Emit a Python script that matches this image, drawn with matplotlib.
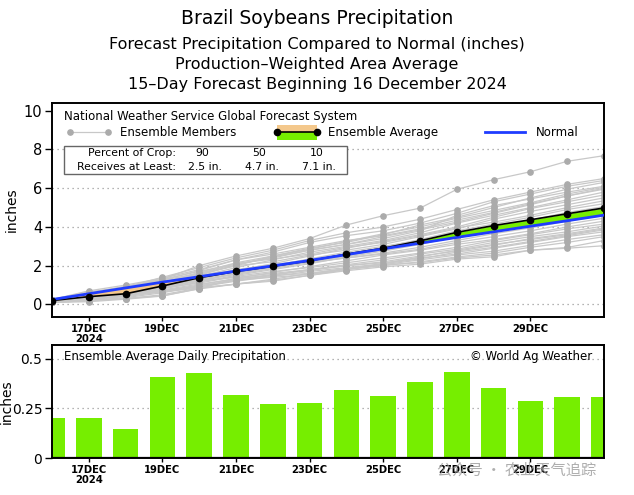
import numpy as np
import matplotlib
matplotlib.use("Agg")
import matplotlib.pyplot as plt
from matplotlib.patches import Rectangle

# days after 16 Dec 2024 (0 = 16DEC ... 15 = 31DEC)
days = list(range(16))
tick_days = [1, 3, 5, 7, 9, 11, 13]
tick_labels = ["17DEC\n2024", "19DEC", "21DEC", "23DEC", "25DEC", "27DEC", "29DEC"]

# daily ensemble average precipitation (inches)
daily_avg = [0.20, 0.20, 0.145, 0.41, 0.43, 0.32, 0.27, 0.277,
             0.342, 0.314, 0.381, 0.436, 0.354, 0.289, 0.309, 0.309]

# cumulative ensemble average and normal (inches)
ens_avg = [0.20, 0.40, 0.55, 0.95, 1.38, 1.70, 1.97, 2.25,
           2.60, 2.90, 3.28, 3.72, 4.07, 4.37, 4.68, 4.98]
normal = [0.25, 0.55, 0.85, 1.15, 1.43, 1.72, 1.99, 2.27,
          2.57, 2.87, 3.16, 3.46, 3.75, 4.04, 4.32, 4.61]

# cumulative ensemble members (inches)
members = [
    [0.25, 0.60, 0.90, 1.30, 2.00, 2.50, 2.90, 3.40, 4.10, 4.58, 4.97, 5.94, 6.44, 6.85, 7.39, 7.68],
    [0.20, 0.50, 0.90, 1.40, 1.90, 2.40, 2.80, 3.30, 3.70, 4.00, 4.40, 4.90, 5.40, 5.80, 6.20, 6.50],
    [0.25, 0.70, 1.00, 1.35, 1.80, 2.30, 2.70, 3.20, 3.55, 3.80, 4.20, 4.70, 5.30, 5.70, 6.10, 6.40],
    [0.20, 0.45, 0.75, 1.10, 1.60, 2.00, 2.50, 2.90, 3.20, 3.60, 4.10, 4.50, 5.00, 5.50, 5.95, 6.30],
    [0.15, 0.40, 0.70, 1.00, 1.50, 2.05, 2.45, 2.80, 3.10, 3.40, 3.80, 4.60, 5.10, 5.45, 5.80, 6.10],
    [0.25, 0.55, 0.80, 1.25, 1.75, 2.30, 2.60, 2.95, 3.30, 3.55, 3.90, 4.35, 4.75, 5.20, 5.60, 5.95],
    [0.20, 0.35, 0.60, 1.00, 1.45, 1.90, 2.30, 2.70, 3.00, 3.30, 3.70, 4.20, 4.60, 5.00, 5.40, 5.80],
    [0.10, 0.30, 0.55, 0.90, 1.30, 1.75, 2.10, 2.50, 2.90, 3.25, 3.60, 4.00, 4.50, 4.95, 5.30, 5.65],
    [0.20, 0.45, 0.65, 1.05, 1.55, 2.00, 2.20, 2.55, 2.80, 3.10, 3.50, 3.90, 4.40, 4.80, 5.15, 5.50],
    [0.25, 0.65, 0.90, 1.30, 1.70, 2.10, 2.35, 2.60, 2.95, 3.20, 3.55, 3.95, 4.25, 4.60, 5.00, 5.35],
    [0.15, 0.30, 0.50, 0.85, 1.20, 1.60, 1.95, 2.30, 2.60, 2.95, 3.35, 3.80, 4.15, 4.50, 4.90, 5.20],
    [0.20, 0.40, 0.60, 0.95, 1.35, 1.70, 2.00, 2.35, 2.70, 3.00, 3.30, 3.65, 4.00, 4.35, 4.75, 5.05],
    [0.20, 0.50, 0.70, 1.10, 1.40, 1.80, 2.05, 2.30, 2.55, 2.80, 3.20, 3.60, 3.90, 4.25, 4.60, 4.95],
    [0.10, 0.25, 0.45, 0.80, 1.15, 1.50, 1.80, 2.10, 2.45, 2.75, 3.10, 3.50, 3.85, 4.15, 4.50, 4.85],
    [0.15, 0.35, 0.55, 0.90, 1.25, 1.55, 1.85, 2.20, 2.50, 2.85, 3.15, 3.45, 3.75, 4.05, 4.40, 4.75],
    [0.20, 0.40, 0.70, 1.00, 1.30, 1.60, 1.90, 2.15, 2.40, 2.65, 2.95, 3.30, 3.65, 3.95, 4.30, 4.60],
    [0.25, 0.60, 0.85, 1.15, 1.50, 1.75, 2.00, 2.20, 2.40, 2.60, 2.85, 3.20, 3.50, 3.80, 4.15, 4.45],
    [0.15, 0.30, 0.50, 0.70, 1.00, 1.35, 1.65, 1.95, 2.25, 2.55, 2.80, 3.10, 3.35, 3.65, 4.00, 4.30],
    [0.20, 0.45, 0.60, 0.85, 1.10, 1.45, 1.70, 1.90, 2.15, 2.40, 2.65, 2.95, 3.30, 3.60, 3.90, 4.15],
    [0.10, 0.20, 0.35, 0.60, 0.95, 1.25, 1.50, 1.80, 2.05, 2.30, 2.60, 2.85, 3.20, 3.50, 3.75, 4.05],
    [0.20, 0.35, 0.55, 0.75, 1.05, 1.30, 1.55, 1.75, 2.00, 2.20, 2.50, 2.75, 3.05, 3.40, 3.65, 3.95],
    [0.15, 0.25, 0.40, 0.65, 0.90, 1.20, 1.45, 1.70, 1.90, 2.10, 2.35, 2.70, 2.95, 3.25, 3.55, 3.85],
    [0.25, 0.50, 0.70, 0.95, 1.20, 1.40, 1.60, 1.80, 2.00, 2.15, 2.40, 2.60, 2.90, 3.20, 3.50, 3.75],
    [0.10, 0.20, 0.30, 0.50, 0.85, 1.05, 1.30, 1.60, 1.85, 2.05, 2.30, 2.55, 2.75, 3.05, 3.35, 3.60],
    [0.20, 0.30, 0.45, 0.70, 0.95, 1.25, 1.40, 1.55, 1.80, 2.00, 2.20, 2.45, 2.65, 2.95, 3.20, 3.50],
    [0.15, 0.20, 0.30, 0.45, 0.80, 1.05, 1.20, 1.50, 1.74, 1.94, 2.08, 2.34, 2.46, 2.80, 2.94, 3.30],
    [0.10, 0.14, 0.27, 0.43, 0.82, 1.34, 1.50, 1.60, 1.85, 2.05, 2.15, 2.40, 2.55, 2.80, 2.90, 3.03],
    [0.20, 0.40, 0.50, 0.65, 0.85, 1.05, 1.25, 1.50, 1.80, 2.10, 2.45, 2.80, 3.10, 3.35, 3.60, 3.90],
    [0.25, 0.55, 0.95, 1.25, 1.60, 2.10, 2.40, 2.80, 3.10, 3.50, 3.85, 4.25, 4.70, 5.15, 5.60, 6.00],
    [0.20, 0.50, 0.75, 1.15, 1.65, 2.15, 2.50, 2.85, 3.25, 3.65, 4.00, 4.45, 4.85, 5.25, 5.70, 6.05],
]

crop_pct = ["90", "50", "10"]
crop_amt = ["2.5 in.", "4.7 in.", "7.1 in."]

title_lines = [
    "Brazil Soybeans Precipitation",
    "Forecast Precipitation Compared to Normal (inches)",
    "Production\u2013Weighted Area Average",
    "15\u2013Day Forecast Beginning 16 December 2024",
]

GREEN = "#76ee00"
TAN = "#f4c88c"
GREY = "#c8c8c8"
GREY_DOT = "#ababab"
BLUE = "#1f3cff"

plt.rcParams["font.family"] = "DejaVu Sans"

fig = plt.figure(figsize=(6.34, 4.95), dpi=100)
ax = fig.add_axes([52 / 634, 1 - 317 / 495, 552 / 634, 214 / 495])
axb = fig.add_axes([52 / 634, 1 - 458 / 495, 552 / 634, 113 / 495])

# titles
fig.text(0.5, 1 - 19 / 495, title_lines[0], ha="center", va="center", fontsize=13.5)
for i, y in enumerate([45, 65, 85]):
    fig.text(0.5, 1 - y / 495, title_lines[i + 1], ha="center", va="center", fontsize=11.5)


def style_axes(a, ytick_size, label_x):
    for s in a.spines.values():
        s.set_linewidth(1.4)
        s.set_color("black")
    a.set_xlim(0, 15)
    a.set_xticks(tick_days)
    a.set_xticklabels(tick_labels, fontsize=8, fontweight="bold",
                      fontstretch="condensed", linespacing=1.0)
    a.tick_params(axis="x", direction="out", length=3, width=1, pad=2)
    a.tick_params(axis="y", direction="out", length=5, width=1,
                  labelsize=ytick_size, pad=2)
    a.set_ylabel("inches", fontsize=10)
    a.yaxis.set_label_coords(label_x, 0.5)


# ---- top panel: cumulative precipitation
style_axes(ax, 10.5, -0.061)
ax.set_ylim(-0.65, 10.4)
ax.set_yticks([0, 2, 4, 6, 8, 10])
for g in [0, 2, 4, 6, 8]:
    ax.axhline(g, color="#9a9a9a", lw=0.9, ls=(0, (1, 3)), zorder=0)

for m in members:
    ax.plot(days, m, color=GREY, lw=0.9, marker="o", ms=3.8, mfc=GREY_DOT,
            mec=GREY_DOT, zorder=1)

avg = np.array(ens_avg)
nrm = np.array(normal)
ax.fill_between(days, avg, nrm, where=avg >= nrm, interpolate=True,
                color=GREEN, lw=0, zorder=2)
ax.fill_between(days, avg, nrm, where=avg < nrm, interpolate=True,
                color=TAN, lw=0, zorder=2)
ax.plot(days, ens_avg, color="black", lw=1.2, zorder=3)
ax.plot(days, normal, color=BLUE, lw=2, zorder=4)
ax.plot(days, ens_avg, ls="none", marker="o", ms=4.5, color="black", zorder=5)

# legend / header (drawn in axes fraction)
tf = ax.transAxes
lfs = 8.5
ax.text(0.022, 0.939, "National Weather Service Global Forecast System",
        transform=tf, fontsize=lfs, va="center", ha="left")
ly = 0.864
ax.plot([0.033, 0.101], [ly, ly], transform=tf, color=GREY, lw=0.9,
        marker="o", ms=3.8, mfc=GREY_DOT, mec=GREY_DOT, clip_on=False)
ax.text(0.123, ly, "Ensemble Members", transform=tf, fontsize=lfs, va="center")
ax.add_patch(Rectangle((0.408, ly), 0.072, 0.035, transform=tf, color=TAN, lw=0))
ax.add_patch(Rectangle((0.408, ly - 0.035), 0.072, 0.035, transform=tf, color=GREEN, lw=0))
ax.plot([0.408, 0.480], [ly, ly], transform=tf, color="black", lw=1.2,
        marker="o", ms=4.5, clip_on=False)
ax.text(0.5, ly, "Ensemble Average", transform=tf, fontsize=lfs, va="center")
ax.plot([0.784, 0.857], [ly, ly], transform=tf, color=BLUE, lw=2)
ax.text(0.877, ly, "Normal", transform=tf, fontsize=lfs, va="center")

tfs = 7.8
ax.add_patch(Rectangle((0.022, 0.668), 0.512, 0.131, transform=tf,
                       facecolor="white", edgecolor="#666666", lw=1.0, zorder=6))
ax.text(0.2246, 0.765, "Percent of Crop:", transform=tf, fontsize=tfs,
        ha="right", va="center", zorder=7)
ax.text(0.2246, 0.703, "Receives at Least:", transform=tf, fontsize=tfs,
        ha="right", va="center", zorder=7)
for x, p, a in zip([0.272, 0.376, 0.479], crop_pct, crop_amt):
    ax.text(x, 0.765, p, transform=tf, fontsize=tfs, ha="center", va="center", zorder=7)
    ax.text(x + 0.005, 0.703, a, transform=tf, fontsize=tfs, ha="center", va="center", zorder=7)

# ---- bottom panel: daily ensemble average
style_axes(axb, 10, -0.070)
axb.set_ylim(0, 0.57)
axb.set_yticks([0, 0.25, 0.5])
axb.set_yticklabels(["0", "0.25", "0.5"])
for g in [0.25, 0.5]:
    axb.axhline(g, color="#9a9a9a", lw=0.9, ls=(0, (1, 3)), zorder=0)
axb.bar(days, daily_avg, width=0.7, color=GREEN, zorder=2)
axb.axhline(0, color="black", lw=1.6, zorder=3)
axb.text(0.022, 0.9, "Ensemble Average Daily Precipitation", transform=axb.transAxes,
         fontsize=lfs, va="center")
axb.text(0.978, 0.9, "\u00a9 World Ag Weather", transform=axb.transAxes,
         fontsize=lfs, va="center", ha="right")

# watermark
fig.text(0.69, 1 - 470 / 495, "\u516c\u4f17\u53f7 \u00b7 \u519c\u4e1a\u5929\u6c14\u8ffd\u8e2a",
         family=["Noto Sans CJK SC", "DejaVu Sans"], fontsize=11, color="#9a9a9a",
         alpha=0.8, ha="left", va="center")

fig.savefig("out.png", dpi=100)
